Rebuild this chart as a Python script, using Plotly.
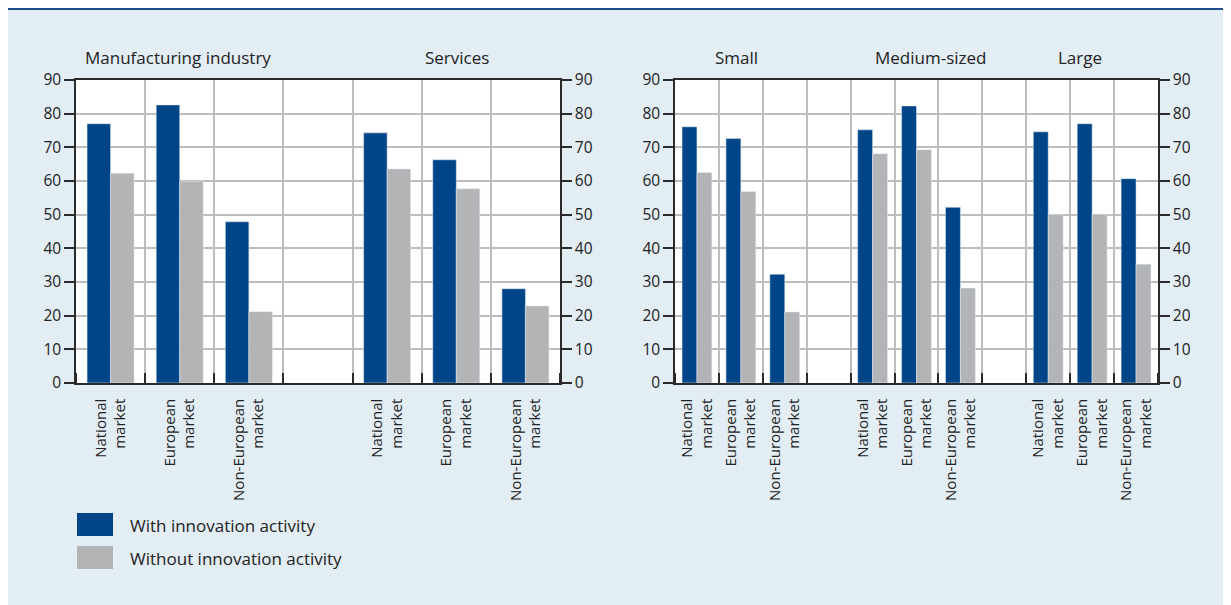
import plotly.graph_objects as go

# ---------------- data ----------------
markets = ["National<br>market", "European<br>market", "Non-European<br>market"]
sectors = ["Manufacturing industry", "Services"]
sizes = ["Small", "Medium-sized", "Large"]
series_names = ["With innovation activity", "Without innovation activity"]

sector_with = [77.0, 82.6, 47.9, 74.3, 66.3, 28.0]
sector_without = [62.3, 59.9, 21.2, 63.6, 57.7, 22.9]
size_with = [76.1, 72.6, 32.3, 75.2, 82.3, 52.2, 74.6, 77.0, 60.7]
size_without = [62.5, 56.9, 21.1, 68.1, 69.3, 28.2, 50.1, 50.1, 35.3]

y_ticks = [0, 10, 20, 30, 40, 50, 60, 70, 80, 90]

# ---------------- styling ----------------
BLUE = "#004587"
GRAY = "#b3b4b6"
BG = "#e2edf4"
GRID = "#bdbdbd"
AXIS = "#2b2b2b"
TXT = "#222222"
FONT = "Open Sans"

W, H = 1231, 605


def positions(n_groups):
    return [g * 4 + m for g in range(n_groups) for m in range(3)]


pos_left = positions(len(sectors))
pos_right = positions(len(sizes))
labels_left = markets * len(sectors)
labels_right = markets * len(sizes)

fig = go.Figure()
fig.add_trace(go.Bar(x=pos_left, y=sector_with, name=series_names[0], marker_color=BLUE,
                     xaxis="x", yaxis="y", offsetgroup="a", showlegend=False))
fig.add_trace(go.Bar(x=pos_left, y=sector_without, name=series_names[1], marker_color=GRAY,
                     xaxis="x", yaxis="y", offsetgroup="b", showlegend=False))
fig.add_trace(go.Bar(x=pos_right, y=size_with, name=series_names[0], marker_color=BLUE,
                     xaxis="x2", yaxis="y2", offsetgroup="a", showlegend=False))
fig.add_trace(go.Bar(x=pos_right, y=size_without, name=series_names[1], marker_color=GRAY,
                     xaxis="x2", yaxis="y2", offsetgroup="b", showlegend=False))
# dummy traces to activate right-hand axes
fig.add_trace(go.Scatter(x=[None], y=[None], xaxis="x", yaxis="y3", showlegend=False, hoverinfo="skip"))
fig.add_trace(go.Scatter(x=[None], y=[None], xaxis="x2", yaxis="y4", showlegend=False, hoverinfo="skip"))

y_dom = [1 - 375 / H, 1 - 72 / H]
nl = len(sectors) * 4 - 1
nr = len(sizes) * 4 - 1


def xaxis_cfg(domain, anchor, vals, text, n):
    return dict(
        domain=domain, anchor=anchor, range=[-0.5, n - 0.5],
        tickmode="array", tickvals=vals, ticktext=text, tickangle=-90,
        ticks="", showgrid=False, zeroline=False,
        showline=True, mirror=True, linecolor=AXIS, linewidth=1.5,
        tickfont=dict(family=FONT, size=15, color=TXT),
        ticklabelstandoff=8,
        minor=dict(tickmode="array", tickvals=[i - 0.5 for i in range(n + 1)],
                   ticks="inside", ticklen=10, tickcolor=AXIS, tickwidth=1.5,
                   showgrid=True, gridcolor=GRID, gridwidth=1.5),
        automargin=False, fixedrange=True,
    )


def yaxis_cfg(anchor, side, grid, overlay=None):
    d = dict(
        anchor=anchor, side=side, domain=y_dom, range=[0, 90],
        tickmode="array", tickvals=y_ticks,
        ticks="outside", ticklen=10, tickcolor=AXIS, tickwidth=1.5,
        showline=True, linecolor=AXIS, linewidth=1.5,
        showgrid=grid, gridcolor=GRID, gridwidth=1.5, zeroline=False,
        tickfont=dict(family=FONT, size=15.5, color=TXT),
        automargin=False, fixedrange=True,
    )
    if overlay:
        d["overlaying"] = overlay
    return d


fig.update_layout(
    width=W, height=H,
    margin=dict(l=0, r=0, t=0, b=0),
    paper_bgcolor=BG, plot_bgcolor="white",
    barmode="group", bargap=0.32, bargroupgap=0,
    xaxis=xaxis_cfg([68 / W, 552 / W], "y", pos_left, labels_left, nl),
    xaxis2=xaxis_cfg([667 / W, 1150 / W], "y2", pos_right, labels_right, nr),
    yaxis=yaxis_cfg("x", "left", True),
    yaxis3=yaxis_cfg("x", "right", False, "y"),
    yaxis2=yaxis_cfg("x2", "left", True),
    yaxis4=yaxis_cfg("x2", "right", False, "y2"),
    font=dict(family=FONT, color=TXT),
)

# top rule
fig.add_shape(type="line", xref="paper", yref="paper", x0=0, x1=1, y0=1 - 1 / H, y1=1 - 1 / H,
              line=dict(color="#1f4d8a", width=2))

# panel titles
title_y = 1 - 50 / H
for name, xpos in zip(sectors, [0.98, 5.01]):
    fig.add_annotation(text=name, x=xpos, xref="x", y=title_y, yref="paper", showarrow=False,
                       font=dict(family=FONT, size=17, color=TXT), xanchor="center", yanchor="middle")
for name, xpos in zip(sizes, [0.91, 5.31, 8.72]):
    fig.add_annotation(text=name, x=xpos, xref="x2", y=title_y, yref="paper", showarrow=False,
                       font=dict(family=FONT, size=17, color=TXT), xanchor="center", yanchor="middle")

# custom legend
for i, (nm, col) in enumerate(zip(series_names, [BLUE, GRAY])):
    top = 505 + i * 33
    fig.add_shape(type="rect", xref="paper", yref="paper", x0=69 / W, x1=105 / W,
                  y0=1 - (top + 23) / H, y1=1 - top / H, fillcolor=col, line_width=0)
    fig.add_annotation(text=nm, xref="paper", yref="paper", x=120 / W, y=1 - (top + 12) / H,
                       showarrow=False, xanchor="left", yanchor="middle",
                       font=dict(family=FONT, size=17, color=TXT))

fig.write_html("out.html")
